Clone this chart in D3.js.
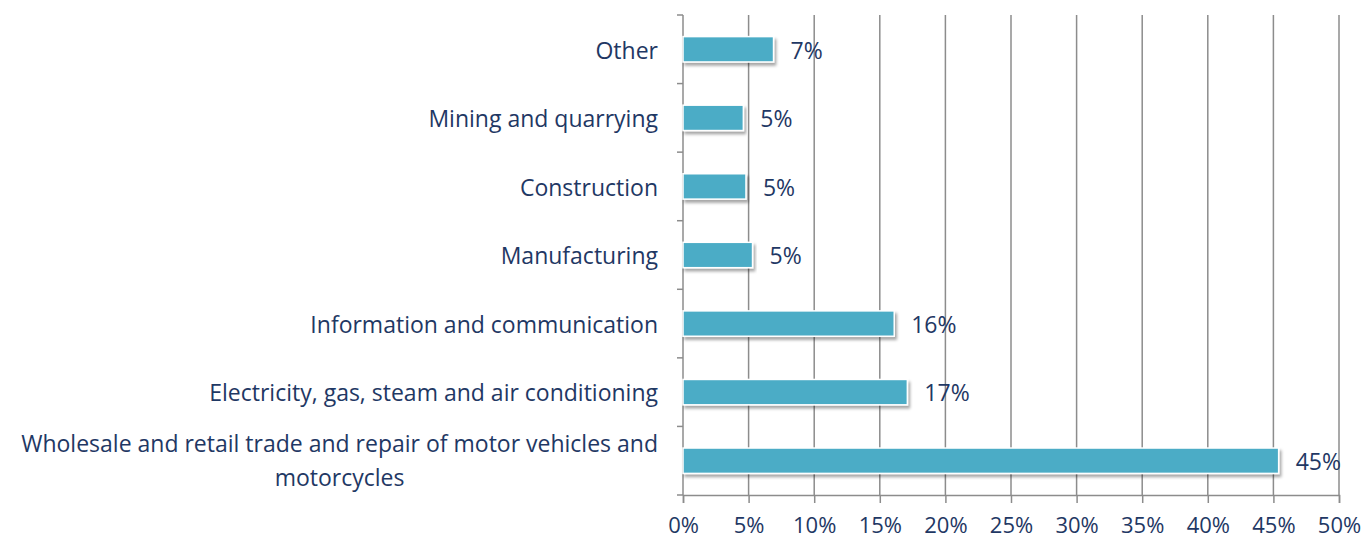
<!DOCTYPE html>
<html>
<head>
<meta charset="utf-8">
<script src="https://cdn.jsdelivr.net/npm/d3@7"></script>
<style>
  body { margin: 0; background: #fff; }
  svg { display: block; font-family: "Open Sans", sans-serif; }
</style>
</head>
<body>
<div id="chart"></div>
<script>
// Sectors, listed bottom to top as in the chart
const sectors = [
  "Wholesale and retail trade and repair of motor vehicles and motorcycles",
  "Electricity, gas, steam and air conditioning",
  "Information and communication",
  "Manufacturing",
  "Construction",
  "Mining and quarrying",
  "Other"
];
const shares = [45.4, 17.1, 16.1, 5.3, 4.8, 4.6, 6.9];
const shareLabels = ["45%", "17%", "16%", "5%", "5%", "5%", "7%"];
const xTicks = [0, 5, 10, 15, 20, 25, 30, 35, 40, 45, 50];

const data = sectors.map((s, i) => ({ sector: s, value: shares[i], label: shareLabels[i] }));

const width = 1365, height = 539;
const margin = { top: 15, right: 26, bottom: 44, left: 683 };
const textColor = "#1f3864";
const gridColor = "#8c8c8c";
const fontSize = "23px";

const svg = d3.select("#chart").append("svg")
  .attr("width", width)
  .attr("height", height);

// Soft shadow under the bars
const defs = svg.append("defs");
defs.append("filter")
  .attr("id", "shadow")
  .attr("x", "-5%").attr("y", "-30%").attr("width", "110%").attr("height", "180%")
  .append("feDropShadow")
  .attr("dx", 2).attr("dy", 3)
  .attr("stdDeviation", 1.5)
  .attr("flood-color", "#000")
  .attr("flood-opacity", 0.35);

const x = d3.scaleLinear()
  .domain([0, 50])
  .range([margin.left, width - margin.right]);

const y = d3.scaleBand()
  .domain(sectors.slice().reverse())
  .range([margin.top, height - margin.bottom])
  .paddingInner(0.63)
  .paddingOuter(0.315);

// Vertical grid lines
svg.append("g")
  .selectAll("line")
  .data(xTicks.slice(1))
  .join("line")
  .attr("x1", d => x(d)).attr("x2", d => x(d))
  .attr("y1", margin.top).attr("y2", height - margin.bottom)
  .attr("stroke", gridColor)
  .attr("stroke-width", 1.5);

// Bottom axis
const xAxis = svg.append("g")
  .attr("transform", `translate(0,${height - margin.bottom})`)
  .call(d3.axisBottom(x).tickValues(xTicks).tickFormat(d => d + "%").tickSize(8).tickPadding(14));
xAxis.select(".domain").attr("stroke", gridColor).attr("stroke-width", 1.5);
xAxis.selectAll(".tick line").attr("stroke", gridColor).attr("stroke-width", 1.5);
xAxis.selectAll("text")
  .attr("fill", textColor)
  .style("font-size", "22px")
  .style("font-family", "'Open Sans', sans-serif");

// Left axis: ticks at category boundaries
const step = y.step();
const boundaries = d3.range(sectors.length + 1).map(i => margin.top + i * step);
svg.append("g")
  .selectAll("line")
  .data(boundaries)
  .join("line")
  .attr("x1", margin.left - 6).attr("x2", margin.left)
  .attr("y1", d => d).attr("y2", d => d)
  .attr("stroke", gridColor)
  .attr("stroke-width", 1.5);
svg.append("line")
  .attr("x1", margin.left).attr("x2", margin.left)
  .attr("y1", margin.top).attr("y2", height - margin.bottom)
  .attr("stroke", gridColor)
  .attr("stroke-width", 1.5);

// Bars
svg.append("g")
  .selectAll("rect")
  .data(data)
  .join("rect")
  .attr("x", x(0))
  .attr("y", d => y(d.sector))
  .attr("width", d => x(d.value) - x(0))
  .attr("height", y.bandwidth())
  .attr("fill", "#4bacc6")
  .attr("stroke", "#fff")
  .attr("stroke-width", 1.5)
  .attr("filter", "url(#shadow)");

// Value labels
svg.append("g")
  .selectAll("text")
  .data(data)
  .join("text")
  .attr("x", d => x(d.value) + 17)
  .attr("y", d => y(d.sector) + y.bandwidth() / 2 + 1)
  .attr("dy", "0.36em")
  .attr("fill", textColor)
  .style("font-size", fontSize)
  .text(d => d.label);

// Category labels, the long one wrapped on two lines and centred
const labelRight = margin.left - 25;
const catG = svg.append("g");
data.forEach(d => {
  const cy = y(d.sector) + y.bandwidth() / 2 + 1;
  if (d.sector.startsWith("Wholesale")) {
    const lines = ["Wholesale and retail trade and repair of motor vehicles and", "motorcycles"];
    const first = catG.append("text")
      .attr("x", labelRight).attr("y", cy - 18)
      .attr("dy", "0.36em")
      .attr("text-anchor", "end")
      .attr("fill", textColor)
      .style("font-size", fontSize)
      .text(lines[0]);
    const w = first.node().getComputedTextLength();
    catG.append("text")
      .attr("x", labelRight - w / 2).attr("y", cy + 16)
      .attr("dy", "0.36em")
      .attr("text-anchor", "middle")
      .attr("fill", textColor)
      .style("font-size", fontSize)
      .text(lines[1]);
  } else {
    catG.append("text")
      .attr("x", labelRight).attr("y", cy)
      .attr("dy", "0.36em")
      .attr("text-anchor", "end")
      .attr("fill", textColor)
      .style("font-size", fontSize)
      .text(d.sector);
  }
});
</script>
</body>
</html>
